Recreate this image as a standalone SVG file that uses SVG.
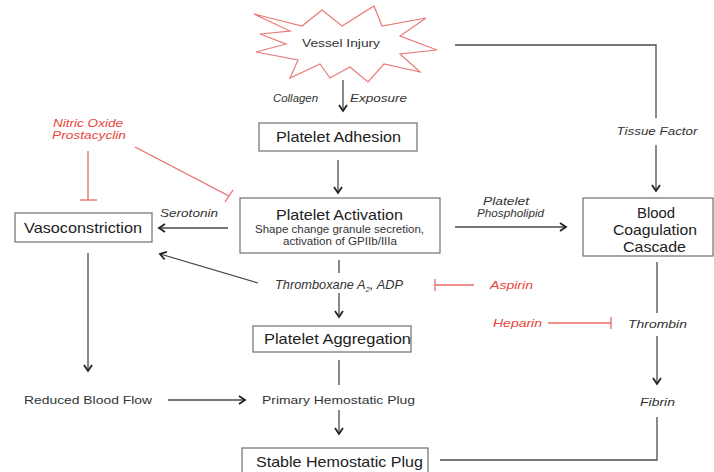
<svg xmlns="http://www.w3.org/2000/svg" width="714" height="472" viewBox="0 0 714 472">
<defs>
<style>
.box{fill:#fff;stroke:#6f6f6f;stroke-width:1.2}
.big{font-family:"Liberation Sans",Arial,sans-serif;font-size:14.5px;fill:#222;text-anchor:middle}
.sm{font-family:"Liberation Sans",Arial,sans-serif;font-size:11px;fill:#333;text-anchor:middle}
.it{font-family:"Liberation Sans",Arial,sans-serif;font-size:11px;fill:#333;font-style:italic;text-anchor:middle}
.red{fill:#e8453c}
.ln{fill:none;stroke:#4a4a4a;stroke-width:1.3}
.rl{fill:none;stroke:#e86a64;stroke-width:1.3}
.arr{marker-end:url(#ah)}
</style>
<marker id="ah" markerWidth="10" markerHeight="10" refX="7" refY="5" orient="auto" markerUnits="userSpaceOnUse">
<path d="M1,1 L7,5 L1,9" fill="none" stroke="#222" stroke-width="1.8"/>
</marker>
</defs>
<rect width="714" height="472" fill="#fff"/>

<g id="connectors">
<line class="ln arr" x1="343" y1="80" x2="343" y2="111"/>
<line class="ln arr" x1="338" y1="160" x2="338" y2="193"/>
<polyline class="ln" points="455,45 656,45 656,118"/>
<line class="ln arr" x1="656" y1="145" x2="656" y2="191"/>
<line class="ln arr" x1="228" y1="228" x2="159" y2="228"/>
<line class="ln arr" x1="455" y1="227" x2="566" y2="227"/>
<line class="ln" x1="339" y1="260" x2="339" y2="273"/>
<line class="ln arr" x1="258" y1="283" x2="160" y2="254"/>
<line class="ln arr" x1="339" y1="293" x2="339" y2="317"/>
<line class="ln" x1="339" y1="360" x2="339" y2="385"/>
<line class="ln arr" x1="339" y1="410" x2="339" y2="434"/>
<line class="ln arr" x1="88" y1="253" x2="88" y2="371"/>
<line class="ln arr" x1="168" y1="400" x2="245" y2="400"/>
<line class="ln" x1="657" y1="262" x2="657" y2="313"/>
<line class="ln arr" x1="657" y1="336" x2="657" y2="384"/>
<polyline class="ln" points="657,417 657,460 440,460"/>
<line class="rl" x1="88" y1="151" x2="88" y2="200"/>
<line class="rl" x1="80" y1="200" x2="97" y2="200"/>
<line class="rl" x1="135" y1="147" x2="229" y2="196"/>
<line class="rl" x1="225" y1="202" x2="233" y2="190"/>
<line class="rl" x1="435" y1="285" x2="474" y2="285"/>
<line class="rl" x1="435" y1="279" x2="435" y2="291"/>
<line class="rl" x1="548" y1="323" x2="611" y2="323"/>
<line class="rl" x1="611" y1="317" x2="611" y2="329"/>
</g>

<g id="vessel-injury">
<polygon points="254,14 302,26 322,10 342,26 374,6 382,26 426,18 400,36 437,50 400,54 420,72 384,64 368,82 350,67 330,78 320,64 290,78 298,60 256,52 286,44 260,34 290,31" fill="#fff" stroke="#e87a78" stroke-width="1.2"/>
<text class="sm" x="341" y="47" textLength="78" lengthAdjust="spacingAndGlyphs">Vessel Injury</text>
</g>

<g id="collagen-label">
<text class="it" x="295.5" y="102" textLength="45" lengthAdjust="spacingAndGlyphs">Collagen</text>
<text class="it" x="378.5" y="102" textLength="57" lengthAdjust="spacingAndGlyphs">Exposure</text>
</g>

<g id="platelet-adhesion">
<rect class="box" x="259" y="123" width="158" height="28"/>
<text class="big" x="338.5" y="142" textLength="125" lengthAdjust="spacingAndGlyphs">Platelet Adhesion</text>
</g>

<g id="no-prostacyclin">
<text class="it red" x="88" y="127" textLength="70" lengthAdjust="spacingAndGlyphs">Nitric Oxide</text>
<text class="it red" x="89" y="139" textLength="74" lengthAdjust="spacingAndGlyphs">Prostacyclin</text>
</g>

<g id="serotonin-label">
<text class="it" x="189" y="217" textLength="58" lengthAdjust="spacingAndGlyphs">Serotonin</text>
</g>

<g id="platelet-activation">
<rect class="box" x="240" y="198" width="200" height="55"/>
<text class="big" x="339.5" y="220" textLength="127" lengthAdjust="spacingAndGlyphs">Platelet Activation</text>
<text class="sm" x="339.5" y="233" style="font-size:10px" textLength="169" lengthAdjust="spacingAndGlyphs">Shape change granule secretion,</text>
<text class="sm" x="340" y="245" style="font-size:10px" textLength="114" lengthAdjust="spacingAndGlyphs">activation of GPIIb/IIIa</text>
</g>

<g id="vasoconstriction">
<rect class="box" x="15" y="213" width="137" height="29"/>
<text class="big" x="83" y="233" textLength="118" lengthAdjust="spacingAndGlyphs">Vasoconstriction</text>
</g>

<g id="phospholipid-label">
<text class="it" x="506" y="205" textLength="46" lengthAdjust="spacingAndGlyphs">Platelet</text>
<text class="it" x="510.5" y="217" textLength="67" lengthAdjust="spacingAndGlyphs">Phospholipid</text>
</g>

<g id="blood-coagulation">
<rect class="box" x="583" y="198" width="130" height="58"/>
<text class="big" x="656" y="218" textLength="38" lengthAdjust="spacingAndGlyphs">Blood</text>
<text class="big" x="655" y="235" textLength="84" lengthAdjust="spacingAndGlyphs">Coagulation</text>
<text class="big" x="654.5" y="252" textLength="63" lengthAdjust="spacingAndGlyphs">Cascade</text>
</g>

<g id="tissue-factor-label">
<text class="it" x="657" y="135" textLength="81" lengthAdjust="spacingAndGlyphs">Tissue Factor</text>
</g>

<g id="thromboxane">
<text class="it" x="339" y="289" style="font-size:12.8px">Thromboxane A<tspan font-size="8" dy="3">2</tspan><tspan dy="-3">, ADP</tspan></text>
</g>

<g id="aspirin">
<text class="it red" x="511.5" y="289" textLength="43" lengthAdjust="spacingAndGlyphs">Aspirin</text>
</g>

<g id="heparin">
<text class="it red" x="517.5" y="327" textLength="49" lengthAdjust="spacingAndGlyphs">Heparin</text>
</g>

<g id="thrombin">
<text class="it" x="657.5" y="328" textLength="59" lengthAdjust="spacingAndGlyphs">Thrombin</text>
</g>

<g id="platelet-aggregation">
<rect class="box" x="253" y="326" width="158" height="26"/>
<text class="big" x="337.5" y="344" textLength="147" lengthAdjust="spacingAndGlyphs">Platelet Aggregation</text>
</g>

<g id="reduced-blood-flow">
<text class="sm" x="88" y="404" textLength="128" lengthAdjust="spacingAndGlyphs">Reduced Blood Flow</text>
</g>

<g id="primary-plug">
<text class="sm" x="338.5" y="404" textLength="153" lengthAdjust="spacingAndGlyphs">Primary Hemostatic Plug</text>
</g>

<g id="fibrin">
<text class="it" x="657.5" y="406" textLength="35" lengthAdjust="spacingAndGlyphs">Fibrin</text>
</g>

<g id="stable-plug">
<rect class="box" x="242" y="448" width="186" height="30"/>
<text class="big" x="339.5" y="467" textLength="167" lengthAdjust="spacingAndGlyphs">Stable Hemostatic Plug</text>
</g>
</svg>
